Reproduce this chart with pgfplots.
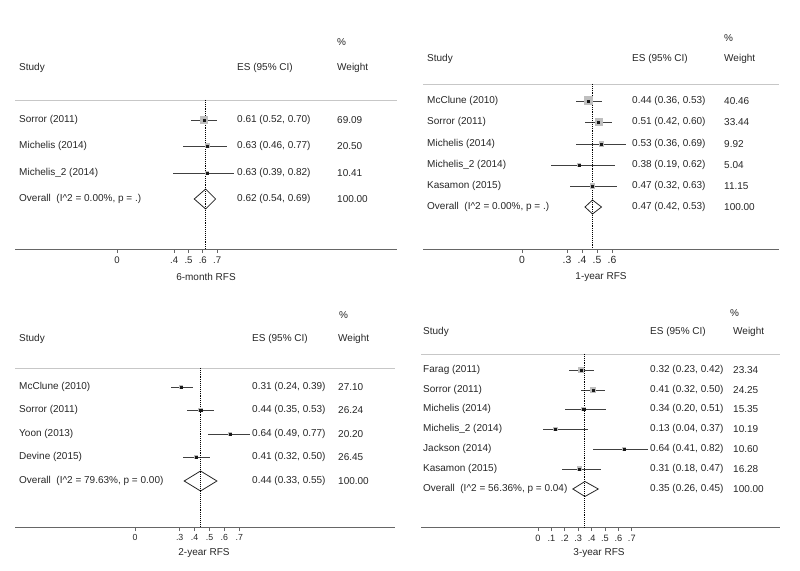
\documentclass[border=0pt]{standalone}
\usepackage{pgfplots}
\pgfplotsset{compat=1.18}
\usepackage{pgfplotstable}
\usepackage{fontspec}
\setmainfont{Liberation Sans}
\definecolor{txt}{HTML}{262626}

% columns: y (row position), es, lo, hi, box (half side of weight box)
\pgfplotstableread{
y es lo hi box
-120 0.61 0.52 0.70 3.5
-146 0.63 0.46 0.77 2.0
-173 0.63 0.39 0.82 1.5
}\tabA
\pgfplotstableread{
y es lo hi box
-101 0.44 0.36 0.53 4.0
-122 0.51 0.42 0.60 3.5
-144 0.53 0.36 0.69 2.2
-165 0.38 0.19 0.62 1.5
-186 0.47 0.32 0.63 2.3
}\tabB
\pgfplotstableread{
y es lo hi box
-387 0.31 0.24 0.39 1.8
-410 0.44 0.35 0.53 1.8
-434 0.64 0.49 0.77 1.6
-457 0.41 0.32 0.50 1.8
}\tabC
\pgfplotstableread{
y es lo hi box
-370 0.32 0.23 0.42 2.3
-390 0.41 0.32 0.50 2.4
-409 0.34 0.20 0.51 1.9
-429 0.13 0.04 0.37 1.6
-449 0.64 0.41 0.82 1.6
-469 0.31 0.18 0.47 2.0
}\tabD

\pgfplotsset{
  forest/.style={
    scale only axis, clip=false, anchor=south west,
    axis x line*=bottom, axis y line=none,
    axis line style={black!60, line width=0.8pt, -},
    xtick align=outside, major tick length=4pt,
    tick style={black!60, line width=0.7pt},
    xticklabel style={text=txt, inner sep=3.5pt},
  },
  boxes/.style={scatter, only marks, mark=square*,
    scatter/use mapped color={draw=black!25, fill=black!25},
    mark options={draw=black!25, fill=black!25, line width=0pt},
    visualization depends on={\thisrow{box}\as\bs},
    scatter/@pre marker code/.append style={/tikz/mark size=\bs}},
  cis/.style={only marks, mark=square*, mark size=1.1pt,
    mark options={fill=black!90, draw=black!90, line width=0.3pt},
    error bars/.cd, x dir=both, x explicit, error mark=none,
    error bar style={line width=0.95pt, black!75}},
}
\tikzset{lab/.style={anchor=west, text=txt, inner sep=0pt}}

\begin{document}
\begin{tikzpicture}
\useasboundingbox (0pt,0pt) rectangle (800pt,570pt);

% ---------- Panel 1: 6-month RFS ----------
\def\xa{117}\def\xs{143}
\begin{axis}[forest, at={(15pt,321pt)}, width=382pt, height=229pt,
  xmin=-0.7133, xmax=1.9580, ymin=-249, ymax=-20,
  xtick={0,0.4,0.5,0.6,0.7}, xticklabels={0,.4,.5,.6,.7},
  xticklabel style={font=\fontsize{9.6}{11}\selectfont},
  every node/.append style={font=\fontsize{9.9}{12}\selectfont}]
\draw[black!22, line width=0.8pt] ({rel axis cs:0,0}|-{axis cs:0,-100}) -- ({rel axis cs:1,0}|-{axis cs:0,-100});
\addplot[boxes] table[x=es,y=y]{\tabA};
\addplot[cis] table[x=es,y=y,x error plus expr=\thisrow{hi}-\thisrow{es},x error minus expr=\thisrow{es}-\thisrow{lo}]{\tabA};
\addplot[black!85, line width=0.8pt, fill=white] coordinates {(0.54,-199) (0.62,-189) (0.69,-199) (0.62,-209)} -- cycle;
\addplot[black, densely dotted, line width=0.9pt] coordinates {(0.62,-100) (0.62,-249)};
\node[lab] at (axis cs:{(337-\xa)/\xs},-42) {\%};
\node[lab] at (axis cs:{(19-\xa)/\xs},-68) {Study};
\node[lab] at (axis cs:{(237-\xa)/\xs},-68) {ES (95\% CI)};
\node[lab] at (axis cs:{(337-\xa)/\xs},-68) {Weight};
\node[lab] at (axis cs:{(19-\xa)/\xs},-120) {Sorror (2011)};
\node[lab] at (axis cs:{(237-\xa)/\xs},-120) {0.61 (0.52, 0.70)};
\node[lab] at (axis cs:{(337-\xa)/\xs},-120) {69.09};
\node[lab] at (axis cs:{(19-\xa)/\xs},-146) {Michelis (2014)};
\node[lab] at (axis cs:{(237-\xa)/\xs},-146) {0.63 (0.46, 0.77)};
\node[lab] at (axis cs:{(337-\xa)/\xs},-146) {20.50};
\node[lab] at (axis cs:{(19-\xa)/\xs},-173) {Michelis\_2 (2014)};
\node[lab] at (axis cs:{(237-\xa)/\xs},-173) {0.63 (0.39, 0.82)};
\node[lab] at (axis cs:{(337-\xa)/\xs},-173) {10.41};
\node[lab] at (axis cs:{(19-\xa)/\xs},-199) {Overall\ \ (I\textasciicircum 2 = 0.00\%, p = .)};
\node[lab] at (axis cs:{(237-\xa)/\xs},-199) {0.62 (0.54, 0.69)};
\node[lab] at (axis cs:{(337-\xa)/\xs},-199) {100.00};
\node[text=txt, inner sep=0pt] at (axis cs:{(206-\xa)/\xs},-277) {6-month RFS};
\end{axis}

% ---------- Panel 2: 1-year RFS ----------
\def\xa{522}\def\xs{150}
\begin{axis}[forest, at={(423pt,321pt)}, width=356pt, height=229pt,
  xmin=-0.66, xmax=1.7133, ymin=-249, ymax=-20,
  xtick={0,0.3,0.4,0.5,0.6}, xticklabels={0,.3,.4,.5,.6},
  xticklabel style={font=\fontsize{10.4}{12}\selectfont},
  every node/.append style={font=\fontsize{10.8}{13}\selectfont}]
\draw[black!22, line width=0.8pt] ({rel axis cs:0,0}|-{axis cs:0,-84}) -- ({rel axis cs:1,0}|-{axis cs:0,-84});
\addplot[boxes] table[x=es,y=y]{\tabB};
\addplot[cis] table[x=es,y=y,x error plus expr=\thisrow{hi}-\thisrow{es},x error minus expr=\thisrow{es}-\thisrow{lo}]{\tabB};
\addplot[black!85, line width=0.8pt, fill=white] coordinates {(0.42,-207) (0.47,-200) (0.53,-207) (0.47,-214)} -- cycle;
\addplot[black, densely dotted, line width=0.9pt] coordinates {(0.47,-84) (0.47,-249)};
\node[lab] at (axis cs:{(724-\xa)/\xs},-38) {\%};
\node[lab] at (axis cs:{(427-\xa)/\xs},-59) {Study};
\node[lab] at (axis cs:{(632-\xa)/\xs},-59) {ES (95\% CI)};
\node[lab] at (axis cs:{(724-\xa)/\xs},-59) {Weight};
\node[lab] at (axis cs:{(427-\xa)/\xs},-101) {McClune (2010)};
\node[lab] at (axis cs:{(632-\xa)/\xs},-101) {0.44 (0.36, 0.53)};
\node[lab] at (axis cs:{(724-\xa)/\xs},-101) {40.46};
\node[lab] at (axis cs:{(427-\xa)/\xs},-122) {Sorror (2011)};
\node[lab] at (axis cs:{(632-\xa)/\xs},-122) {0.51 (0.42, 0.60)};
\node[lab] at (axis cs:{(724-\xa)/\xs},-122) {33.44};
\node[lab] at (axis cs:{(427-\xa)/\xs},-144) {Michelis (2014)};
\node[lab] at (axis cs:{(632-\xa)/\xs},-144) {0.53 (0.36, 0.69)};
\node[lab] at (axis cs:{(724-\xa)/\xs},-144) {9.92};
\node[lab] at (axis cs:{(427-\xa)/\xs},-165) {Michelis\_2 (2014)};
\node[lab] at (axis cs:{(632-\xa)/\xs},-165) {0.38 (0.19, 0.62)};
\node[lab] at (axis cs:{(724-\xa)/\xs},-165) {5.04};
\node[lab] at (axis cs:{(427-\xa)/\xs},-186) {Kasamon (2015)};
\node[lab] at (axis cs:{(632-\xa)/\xs},-186) {0.47 (0.32, 0.63)};
\node[lab] at (axis cs:{(724-\xa)/\xs},-186) {11.15};
\node[lab] at (axis cs:{(427-\xa)/\xs},-207) {Overall\ \ (I\textasciicircum 2 = 0.00\%, p = .)};
\node[lab] at (axis cs:{(632-\xa)/\xs},-207) {0.47 (0.42, 0.53)};
\node[lab] at (axis cs:{(724-\xa)/\xs},-207) {100.00};
\node[text=txt, inner sep=0pt] at (axis cs:{(601-\xa)/\xs},-277) {1-year RFS};
\end{axis}

% ---------- Panel 3: 2-year RFS ----------
\def\xa{135}\def\xs{149}
\begin{axis}[forest, at={(15pt,43pt)}, width=380pt, height=232pt,
  xmin=-0.8054, xmax=1.7450, ymin=-527, ymax=-295,
  xtick={0,0.3,0.4,0.5,0.6,0.7}, xticklabels={0,.3,.4,.5,.6,.7},
  xticklabel style={font=\fontsize{8.8}{10}\selectfont},
  every node/.append style={font=\fontsize{8.8}{10.5}\selectfont}]
\draw[black!22, line width=0.8pt] ({rel axis cs:0,0}|-{axis cs:0,-368}) -- ({rel axis cs:1,0}|-{axis cs:0,-368});
\addplot[boxes] table[x=es,y=y]{\tabC};
\addplot[cis] table[x=es,y=y,x error plus expr=\thisrow{hi}-\thisrow{es},x error minus expr=\thisrow{es}-\thisrow{lo}]{\tabC};
\addplot[black!85, line width=0.8pt, fill=white] coordinates {(0.33,-481) (0.44,-471) (0.55,-481) (0.44,-491)} -- cycle;
\addplot[black, densely dotted, line width=0.9pt] coordinates {(0.44,-368) (0.44,-527)};
\node[lab] at (axis cs:{(339-\xa)/\xs},-315) {\%};
\node[lab] at (axis cs:{(19-\xa)/\xs},-339) {Study};
\node[lab] at (axis cs:{(252-\xa)/\xs},-339) {ES (95\% CI)};
\node[lab] at (axis cs:{(338-\xa)/\xs},-339) {Weight};
\node[lab] at (axis cs:{(19-\xa)/\xs},-387) {McClune (2010)};
\node[lab] at (axis cs:{(252-\xa)/\xs},-387) {0.31 (0.24, 0.39)};
\node[lab] at (axis cs:{(338-\xa)/\xs},-387) {27.10};
\node[lab] at (axis cs:{(19-\xa)/\xs},-410) {Sorror (2011)};
\node[lab] at (axis cs:{(252-\xa)/\xs},-410) {0.44 (0.35, 0.53)};
\node[lab] at (axis cs:{(338-\xa)/\xs},-410) {26.24};
\node[lab] at (axis cs:{(19-\xa)/\xs},-434) {Yoon (2013)};
\node[lab] at (axis cs:{(252-\xa)/\xs},-434) {0.64 (0.49, 0.77)};
\node[lab] at (axis cs:{(338-\xa)/\xs},-434) {20.20};
\node[lab] at (axis cs:{(19-\xa)/\xs},-457) {Devine (2015)};
\node[lab] at (axis cs:{(252-\xa)/\xs},-457) {0.41 (0.32, 0.50)};
\node[lab] at (axis cs:{(338-\xa)/\xs},-457) {26.45};
\node[lab] at (axis cs:{(19-\xa)/\xs},-481) {Overall\ \ (I\textasciicircum 2 = 79.63\%, p = 0.00)};
\node[lab] at (axis cs:{(252-\xa)/\xs},-481) {0.44 (0.33, 0.55)};
\node[lab] at (axis cs:{(338-\xa)/\xs},-481) {100.00};
\node[text=txt, inner sep=0pt] at (axis cs:{(204-\xa)/\xs},-553) {2-year RFS};
\end{axis}

% ---------- Panel 4: 3-year RFS ----------
\def\xa{538}\def\xs{134}
\begin{axis}[forest, at={(421pt,43pt)}, width=359pt, height=232pt,
  xmin=-0.8731, xmax=1.8060, ymin=-527, ymax=-295,
  xtick={0,0.1,0.2,0.3,0.4,0.5,0.6,0.7}, xticklabels={0,.1,.2,.3,.4,.5,.6,.7},
  xticklabel style={font=\fontsize{9.2}{10}\selectfont},
  every node/.append style={font=\fontsize{9.4}{11}\selectfont}]
\draw[black!22, line width=0.8pt] ({rel axis cs:0,0}|-{axis cs:0,-354}) -- ({rel axis cs:1,0}|-{axis cs:0,-354});
\addplot[boxes] table[x=es,y=y]{\tabD};
\addplot[cis] table[x=es,y=y,x error plus expr=\thisrow{hi}-\thisrow{es},x error minus expr=\thisrow{es}-\thisrow{lo}]{\tabD};
\addplot[black!85, line width=0.8pt, fill=white] coordinates {(0.26,-489) (0.35,-481.5) (0.45,-489) (0.35,-496.5)} -- cycle;
\addplot[black, densely dotted, line width=0.9pt] coordinates {(0.35,-354) (0.35,-527)};
\node[lab] at (axis cs:{(730-\xa)/\xs},-313) {\%};
\node[lab] at (axis cs:{(423-\xa)/\xs},-332) {Study};
\node[lab] at (axis cs:{(650-\xa)/\xs},-332) {ES (95\% CI)};
\node[lab] at (axis cs:{(733-\xa)/\xs},-332) {Weight};
\node[lab] at (axis cs:{(423-\xa)/\xs},-370) {Farag (2011)};
\node[lab] at (axis cs:{(650-\xa)/\xs},-370) {0.32 (0.23, 0.42)};
\node[lab] at (axis cs:{(733-\xa)/\xs},-370) {23.34};
\node[lab] at (axis cs:{(423-\xa)/\xs},-390) {Sorror (2011)};
\node[lab] at (axis cs:{(650-\xa)/\xs},-390) {0.41 (0.32, 0.50)};
\node[lab] at (axis cs:{(733-\xa)/\xs},-390) {24.25};
\node[lab] at (axis cs:{(423-\xa)/\xs},-409) {Michelis (2014)};
\node[lab] at (axis cs:{(650-\xa)/\xs},-409) {0.34 (0.20, 0.51)};
\node[lab] at (axis cs:{(733-\xa)/\xs},-409) {15.35};
\node[lab] at (axis cs:{(423-\xa)/\xs},-429) {Michelis\_2 (2014)};
\node[lab] at (axis cs:{(650-\xa)/\xs},-429) {0.13 (0.04, 0.37)};
\node[lab] at (axis cs:{(733-\xa)/\xs},-429) {10.19};
\node[lab] at (axis cs:{(423-\xa)/\xs},-449) {Jackson (2014)};
\node[lab] at (axis cs:{(650-\xa)/\xs},-449) {0.64 (0.41, 0.82)};
\node[lab] at (axis cs:{(733-\xa)/\xs},-449) {10.60};
\node[lab] at (axis cs:{(423-\xa)/\xs},-469) {Kasamon (2015)};
\node[lab] at (axis cs:{(650-\xa)/\xs},-469) {0.31 (0.18, 0.47)};
\node[lab] at (axis cs:{(733-\xa)/\xs},-469) {16.28};
\node[lab] at (axis cs:{(423-\xa)/\xs},-489) {Overall\ \ (I\textasciicircum 2 = 56.36\%, p = 0.04)};
\node[lab] at (axis cs:{(650-\xa)/\xs},-489) {0.35 (0.26, 0.45)};
\node[lab] at (axis cs:{(733-\xa)/\xs},-489) {100.00};
\node[text=txt, inner sep=0pt] at (axis cs:{(599-\xa)/\xs},-553) {3-year RFS};
\end{axis}
\end{tikzpicture}
\end{document}
